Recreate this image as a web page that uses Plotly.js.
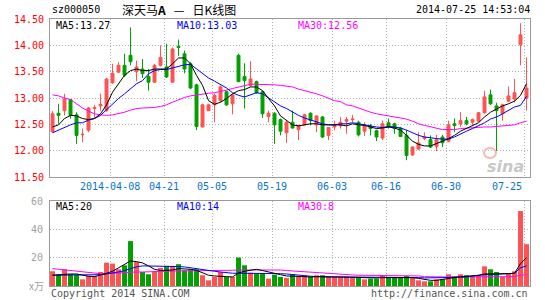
<!DOCTYPE html>
<html><head><meta charset="utf-8">
<script src="https://cdn.plot.ly/plotly-3.0.1.min.js"></script>
<style>html,body{margin:0;padding:0;background:#fff;}#chart{width:545px;height:300px;}</style>
</head><body><div id="chart"></div>
<script>
// ---- data ----
const opens = [12.36,12.71,12.76,12.97,12.68,12.30,12.39,12.80,12.85,12.76,
 13.29,13.49,13.62,13.81,13.50,13.55,13.41,13.30,13.62,13.59,
 13.30,13.98,13.84,13.65,13.25,12.45,12.76,12.87,12.95,13.12,
 12.89,13.81,13.41,13.24,13.31,13.12,12.65,12.71,12.59,12.34,
 12.54,12.40,12.49,12.71,12.49,12.64,12.29,12.45,12.47,12.56,
 12.59,12.54,12.37,12.47,12.38,12.24,12.53,12.51,12.43,12.29,
 11.92,12.03,12.23,12.21,12.08,12.26,12.18,12.51,12.51,12.57,
 12.54,12.56,12.72,13.06,12.85,12.70,12.94,12.98,14.01,13.00];
const closes = [12.70,12.67,12.98,12.67,12.29,12.31,12.81,12.82,12.88,13.36,
 13.47,13.62,13.43,13.69,13.59,13.46,13.30,13.62,13.77,13.40,
 13.93,13.96,13.55,13.19,12.46,12.87,12.87,13.05,13.21,12.87,
 13.06,13.31,13.33,13.36,13.10,12.70,12.71,12.49,12.37,12.54,
 12.43,12.48,12.68,12.57,12.66,12.26,12.44,12.48,12.54,12.59,
 12.60,12.30,12.49,12.42,12.26,12.51,12.45,12.42,12.27,11.91,
 12.07,12.15,12.26,12.07,12.21,12.15,12.49,12.48,12.57,12.51,
 12.59,12.72,13.02,12.89,12.76,12.87,13.04,13.10,14.20,13.19];
const highs = [12.75,12.89,13.08,12.98,12.73,12.42,12.83,12.87,13.08,13.38,
 13.65,13.68,13.84,14.34,13.71,13.74,13.55,13.65,14.00,14.03,
 13.96,14.11,13.90,13.68,13.27,12.89,12.89,13.08,13.24,13.14,
 13.08,13.84,13.66,13.70,13.33,13.14,12.76,12.73,12.61,12.57,
 12.76,12.49,12.70,12.73,12.67,12.66,12.45,12.57,12.64,12.64,
 12.68,12.57,12.54,12.51,12.40,12.57,12.61,12.53,12.45,12.39,
 12.08,12.35,12.35,12.29,12.30,12.30,12.57,12.61,12.73,12.64,
 12.61,12.73,13.14,13.16,12.91,12.89,13.22,13.36,14.42,13.77];
const lows = [12.34,12.51,12.67,12.61,12.13,12.16,12.35,12.61,12.76,12.74,
 13.27,13.48,13.40,13.62,13.32,13.38,13.14,13.29,13.60,13.38,
 13.29,13.80,13.47,13.17,12.39,12.44,12.75,12.54,12.92,12.85,
 12.69,13.30,12.80,13.21,13.08,12.62,12.54,12.13,12.29,12.15,
 12.42,12.20,12.48,12.48,12.35,12.24,12.20,12.39,12.42,12.32,
 12.54,12.27,12.28,12.29,12.18,12.20,12.42,12.32,12.26,11.82,
 11.90,12.01,12.20,12.05,11.99,12.07,12.16,12.35,12.45,12.48,
 12.49,12.54,12.70,12.87,11.99,12.57,12.92,12.92,13.62,12.76];
const ma5 = [12.45,12.49,12.61,12.67,12.66,12.61,12.59,12.61,12.70,12.87,
 13.11,13.27,13.43,13.52,13.55,13.52,13.52,13.55,13.55,13.55,
 13.65,13.76,13.76,13.65,13.43,13.24,12.95,12.88,12.92,12.99,
 13.08,13.14,13.16,13.21,13.21,13.14,12.99,12.85,12.66,12.58,
 12.49,12.47,12.49,12.51,12.51,12.49,12.49,12.49,12.49,12.47,
 12.51,12.49,12.48,12.45,12.42,12.43,12.45,12.43,12.39,12.29,
 12.18,12.12,12.09,12.09,12.13,12.18,12.23,12.29,12.37,12.42,
 12.47,12.53,12.64,12.73,12.79,12.85,12.89,12.94,13.05,13.27];
const ma10 = [12.34,12.39,12.45,12.49,12.53,12.53,12.58,12.61,12.67,12.78,
 12.89,12.99,13.08,13.18,13.27,13.33,13.46,13.52,13.54,13.54,
 13.57,13.61,13.63,13.64,13.55,13.46,13.38,13.32,13.25,13.19,
 13.10,13.05,13.02,13.06,13.10,13.08,13.00,12.92,12.85,12.80,
 12.73,12.67,12.62,12.58,12.54,12.51,12.49,12.49,12.51,12.51,
 12.53,12.51,12.48,12.47,12.45,12.44,12.46,12.45,12.43,12.39,
 12.34,12.29,12.26,12.24,12.23,12.22,12.22,12.26,12.32,12.37,
 12.42,12.47,12.53,12.60,12.64,12.70,12.77,12.83,12.86,13.03];
const ma30 = [13.06,13.04,13.00,12.97,12.89,12.81,12.75,12.70,12.68,12.67,
 12.68,12.70,12.73,12.77,12.80,12.81,12.81,12.82,12.84,12.87,
 12.92,12.97,13.01,13.04,13.06,13.08,13.09,13.10,13.12,13.15,
 13.18,13.21,13.24,13.26,13.26,13.26,13.26,13.25,13.24,13.23,
 13.21,13.17,13.14,13.12,13.08,13.04,12.99,12.95,12.93,12.87,
 12.85,12.81,12.76,12.73,12.70,12.68,12.67,12.65,12.62,12.60,
 12.56,12.51,12.48,12.45,12.42,12.40,12.40,12.40,12.42,12.43,
 12.44,12.44,12.45,12.45,12.46,12.47,12.48,12.49,12.53,12.56];
const volumes = [10.4,8.0,11.8,8.3,8.0,4.7,7.1,7.1,9.9,16.5,
 15.8,11.8,14.6,31.7,17.0,9.9,8.3,10.4,12.8,14.2,
 14.2,15.4,11.1,11.8,11.8,7.6,4.0,6.4,9.9,6.4,
 6.4,20.1,14.6,9.4,8.5,8.7,5.2,8.0,6.4,5.7,
 8.3,6.4,7.6,6.4,7.6,7.6,6.4,6.4,6.4,6.4,
 5.7,5.7,4.7,5.2,5.2,7.1,5.7,5.7,5.7,7.1,
 5.7,4.0,3.3,3.3,4.7,4.7,8.3,6.9,8.3,7.6,
 6.4,7.6,13.9,11.8,9.9,6.4,8.7,10.4,52.9,29.5];
const vma5 = [7.6,8.0,8.3,8.5,8.5,7.6,6.9,6.6,7.6,9.0,
 10.4,12.8,15.8,17.7,17.2,16.3,14.2,11.8,10.9,10.9,
 11.3,12.3,12.3,11.8,11.1,9.4,7.6,7.1,7.1,6.6,
 6.4,9.2,10.4,10.9,11.8,10.9,9.9,8.5,8.0,7.1,
 6.9,6.6,6.4,6.4,6.6,6.6,6.6,6.6,6.4,6.4,
 6.4,6.1,5.9,5.7,5.7,5.9,5.9,5.9,6.1,6.1,
 5.9,5.4,4.7,4.0,4.0,4.7,5.4,6.1,6.6,6.9,
 7.1,7.6,8.5,8.7,8.7,8.7,8.7,9.0,15.8,20.0];
const vma10 = [7.6,7.6,7.6,7.6,7.6,7.6,7.6,7.6,8.0,8.5,
 9.0,9.9,10.9,12.3,13.5,14.2,14.2,14.2,14.2,13.9,
 13.7,13.7,13.5,12.8,12.0,11.8,11.1,10.4,9.9,9.4,
 9.0,9.0,9.0,9.0,9.0,9.0,9.0,9.2,8.7,8.5,
 8.0,7.6,7.1,6.9,6.6,6.4,6.4,6.4,6.4,6.4,
 6.4,6.4,6.4,6.4,6.4,6.4,6.4,6.4,6.4,6.1,
 6.1,5.9,5.7,5.7,5.7,5.7,5.7,5.9,6.1,6.4,
 6.9,7.6,8.0,8.0,8.3,8.3,8.5,9.0,12.8,14.2];
const vma30 = [12.3,11.8,11.3,10.9,10.4,9.9,9.4,9.0,8.7,8.7,
 9.0,9.2,9.4,9.7,9.9,9.9,9.9,10.2,10.4,10.4,
 10.6,10.6,10.9,10.9,11.1,11.1,11.1,11.1,11.1,11.1,
 11.1,11.3,11.3,11.3,11.3,11.3,11.3,11.6,11.3,10.9,
 10.6,10.4,9.9,9.4,9.2,9.0,8.7,8.5,8.3,8.0,
 7.8,7.6,7.6,7.6,7.6,7.6,7.6,7.6,7.6,7.6,
 7.3,7.1,6.6,6.4,6.4,6.4,6.4,6.4,6.4,6.4,
 6.4,6.4,6.4,6.4,6.4,6.4,6.4,6.6,7.6,8.0];
const dateLabels = ['2014-04-08','04-21','05-05','05-19','06-03','06-16','06-30','07-25'];
const dateIndex = [10,19,27,37,47,56,66,79];
const priceTicks = [11.5,12.0,12.5,13.0,13.5,14.0,14.5];
const volTicks = [20,40,60];
const stockCode = 'sz000050';
const stockName = '深天马<b>A</b>\u00a0\u00a0\u00a0—\u00a0\u00a0\u00a0日K线图';
const stamp = '2014-07-25 14:53:04';

// ---- drawing ----
const W = 545, H = 300;
const px = v => v / W, py = v => 1 - v / H;
const RED = '#ff5252', GREEN = '#00a000';
const MONO = 'DejaVu Sans Mono, Liberation Mono, monospace';
const idx = closes.map((_, i) => i);
const gridX = dateIndex.map(i => i - 0.42);
const volColors = closes.map((c, i) => c >= opens[i] ? RED : GREEN);

const line = (y, color, xa, ya) => ({type:'scatter', mode:'lines', x:idx, y:y, xaxis:xa, yaxis:ya,
  line:{color:color, width:1}, hoverinfo:'skip'});

const traces = [
  {type:'candlestick', x:idx, open:opens, high:highs, low:lows, close:closes, xaxis:'x', yaxis:'y',
   increasing:{line:{color:RED, width:1}, fillcolor:RED},
   decreasing:{line:{color:GREEN, width:1}, fillcolor:GREEN},
   whiskerwidth:0, hoverinfo:'skip'},
  line(ma30, '#ff00ff', 'x', 'y'),
  line(ma10, '#0000ff', 'x', 'y'),
  line(ma5, '#000000', 'x', 'y'),
  {type:'bar', x:idx, y:volumes, xaxis:'x2', yaxis:'y2', width:0.83,
   marker:{color:volColors, line:{width:0}}, hoverinfo:'skip'},
  line(vma30, '#ff00ff', 'x2', 'y2'),
  line(vma10, '#0000ff', 'x2', 'y2'),
  line(vma5, '#000000', 'x2', 'y2')
];

const xCommon = {range:[-0.42, 79.58], tickvals:gridX, showticklabels:false, ticks:'',
  showgrid:true, gridcolor:'#b4b4b4', griddash:'1px,2px', gridwidth:1,
  showline:true, mirror:true, linecolor:'#9a9a9a', linewidth:1, zeroline:false,
  fixedrange:true, automargin:false};

const last = a => a[a.length - 1];
const ann = [];
const txt = (text, x, y, color, xanchor, size, family, extra) => ann.push(Object.assign({
  text:text, xref:'paper', yref:'paper', x:px(x), y:py(y), xanchor:xanchor||'left', yanchor:'middle',
  showarrow:false, font:{family:family||MONO, size:size||10, color:color}}, extra||{}));

txt(stockCode, 50, 10, '#000');
txt(stockName, 120, 9, '#000', 'left', 12, 'Noto Sans CJK SC');
txt(stamp, 532, 10, '#000', 'right');
txt('MA5:' + last(ma5).toFixed(2), 54, 25, '#000');
txt('MA10:' + last(ma10).toFixed(2), 175, 25, '#0000ff');
txt('MA30:' + last(ma30).toFixed(2), 296, 25, '#ff00ff');
txt('MA5:' + Math.round(last(vma5)), 54, 207, '#000');
txt('MA10:' + Math.round(last(vma10)), 175, 207, '#0000ff');
txt('MA30:' + Math.round(last(vma30)), 296, 207, '#ff00ff');
txt('x万', 46, 285, '#a0a0a0', 'right', 10, 'Noto Sans CJK SC');
txt('Copyright 2014 SINA.COM', 49, 293, '#555');
txt('http://finance.sina.com.cn', 530, 293, '#555', 'right');
txt('<i><b>sina</b></i>', 505, 166, '#c8c8c8', 'center', 16, 'DejaVu Sans');

dateLabels.forEach((d, k) => {
  const isLast = k === dateLabels.length - 1;
  ann.push({text:d, xref:'x', yref:'paper', x:gridX[k], y:py(186),
    xanchor:isLast ? 'right' : 'center', yanchor:'middle', showarrow:false,
    font:{family:MONO, size:10, color:'#0a74c8'}});
});

const layout = {
  width:W, height:H, margin:{l:0, r:0, t:0, b:0, pad:0},
  paper_bgcolor:'#fff', plot_bgcolor:'#fff', showlegend:false,
  xaxis:Object.assign({}, xCommon, {domain:[px(50), px(530)], anchor:'y', rangeslider:{visible:false}}),
  xaxis2:Object.assign({}, xCommon, {domain:[px(50), px(530)], anchor:'y2'}),
  yaxis:{domain:[py(177), py(19)], range:[11.5, 14.5], tickvals:priceTicks,
    ticktext:priceTicks.map(v => v.toFixed(2)), ticks:'', ticklabelstandoff:3,
    tickfont:{family:MONO, size:10, color:'#ff0000'},
    showgrid:true, gridcolor:'#b4b4b4', griddash:'1px,2px', gridwidth:1,
    showline:true, mirror:true, linecolor:'#9a9a9a', linewidth:1, zeroline:false,
    fixedrange:true, automargin:false},
  yaxis2:{domain:[py(286), py(201)], range:[0, 60], tickvals:volTicks,
    ticktext:volTicks.map(String), ticks:'', ticklabelstandoff:4,
    tickfont:{family:MONO, size:10, color:'#a0a0a0'},
    showgrid:true, gridcolor:'#b4b4b4', griddash:'1px,2px', gridwidth:1,
    showline:true, mirror:true, linecolor:'#9a9a9a', linewidth:1, zeroline:false,
    fixedrange:true, automargin:false},
  shapes:[{type:'circle', xref:'paper', yref:'paper', x0:px(484), x1:px(496), y0:py(158), y1:py(148),
    line:{color:'#f4b8b8', width:2}, fillcolor:'rgba(0,0,0,0)', layer:'above'}],
  annotations:ann,
  boxgap:0.3
};

Plotly.newPlot('chart', traces, layout, {staticPlot:true, displayModeBar:false});
</script>
</body></html>
